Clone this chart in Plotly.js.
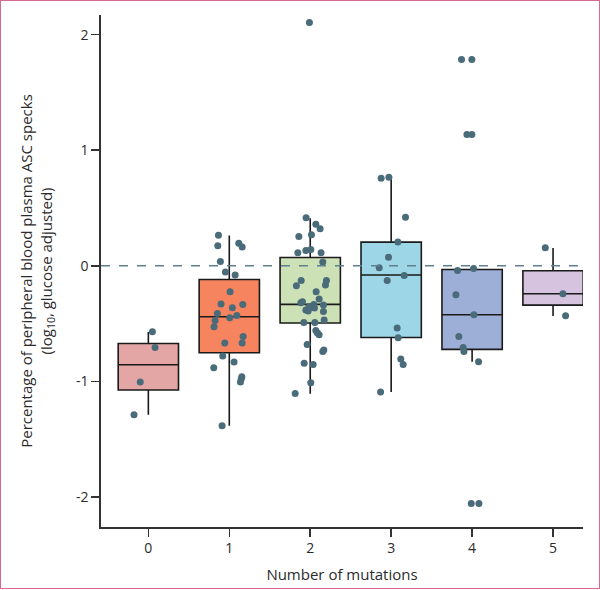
<!DOCTYPE html>
<html>
<head>
<meta charset="utf-8">
<script src="https://cdn.plot.ly/plotly-3.0.1.min.js"></script>
<style>
  html, body { margin: 0; padding: 0; background: #fff; }
  #wrap { position: relative; width: 600px; height: 590px; }
  #chart { width: 600px; height: 590px; }
  #frame { position: absolute; left: 0; top: 0; width: 600px; height: 589px; box-sizing: border-box;
           border: 1.5px solid #d8698c; pointer-events: none; }
</style>
</head>
<body>
<div id="wrap"><div id="chart"></div><div id="frame"></div></div>
<script>
// ---- Data ----
const categories = [0, 1, 2, 3, 4, 5];
const tickLabels = ['0', '1', '2', '3', '4', '5'];
const yTickVals = [-2, -1, 0, 1, 2];
const yTickLabels = ['-2', '-1', '0', '1', '2'];

// box statistics per number of mutations
const q1Values       = [-1.074, -0.752, -0.495, -0.620, -0.723, -0.340];
const medianValues   = [-0.856, -0.441, -0.334, -0.080, -0.424, -0.242];
const q3Values       = [-0.672, -0.118,  0.072,  0.205, -0.032, -0.043];
const lowerWhiskers  = [-1.288, -1.383, -1.106, -1.092, -0.830, -0.435];
const upperWhiskers  = [-0.573,  0.262,  0.412,  0.767, -0.023,  0.153];

// individual observations (y) and horizontal jitter (category units)
const points0 = [-0.570, -0.706, -1.005, -1.288];
const jitter0 = [0.050, 0.083, -0.100, -0.177];

const points1 = [0.265, 0.173, 0.196, 0.162, 0.037, -0.054, -0.080, -0.225, -0.331, -0.334, -0.363, -0.412, -0.430,
                 -0.449, -0.473, -0.527, -0.611, -0.668, -0.668, -0.781, -0.833, -0.882, -0.959, -0.979, -1.005, -1.385];
const jitter1 = [-0.134, -0.142, 0.117, 0.159, -0.110, -0.048, 0.072, 0.010, -0.102, 0.167, 0.038, -0.147, 0.093,
                 0.006, -0.175, -0.188, 0.171, -0.056, 0.159, -0.081, 0.059, -0.192, 0.155, 0.147, 0.138, -0.089];

const points2 = [2.106, 0.415, 0.360, 0.320, 0.268, 0.253, 0.141, 0.132, 0.112, 0.112, 0.032, -0.127, -0.127, -0.167,
                 -0.173, -0.225, -0.288, -0.311, -0.320, -0.334, -0.340, -0.354, -0.360, -0.383, -0.366, -0.392,
                 -0.395, -0.469, -0.490, -0.490, -0.559, -0.582, -0.596, -0.680, -0.729, -0.741, -0.844, -0.853,
                 -1.011, -1.104];
const jitter2 = [-0.010, -0.051, 0.069, 0.122, 0.015, -0.141, 0.007, -0.054, -0.153, 0.134, 0.155, 0.200, -0.112, 0.188,
                 -0.171, 0.073, 0.110, -0.096, -0.116, 0.044, 0.163, -0.014, 0.024, -0.054, 0.052, -0.026,
                 0.163, 0.172, -0.079, 0.057, 0.069, 0.089, 0.110, -0.038, 0.168, 0.155, -0.075, 0.036,
                 0.007, -0.186];

const points3 = [0.758, 0.767, 0.421, 0.205, 0.075, -0.017, -0.084, -0.127, -0.538, -0.622, -0.806, -0.853, -1.092];
const jitter3 = [-0.124, -0.028, 0.177, 0.083, -0.033, -0.148, 0.161, -0.049, 0.074, 0.086, 0.119, 0.148, -0.131];

const points4 = [1.786, 1.786, 1.135, 1.135, -0.040, -0.023, -0.251, -0.424, -0.611, -0.706, -0.741, -0.830, -2.057, -2.057];
const jitter4 = [-0.131, -0.003, -0.064, -0.003, -0.180, 0.018, -0.200, 0.022, -0.164, -0.111, -0.101, 0.080, -0.011, 0.084];

const points5 = [0.156, -0.242, -0.432];
const jitter5 = [-0.096, 0.122, 0.155];

// ---- Styles ----
const boxColors = ['#e3a6a4', '#f5845f', '#cde1b6', '#9dd6e6', '#9eafd7', '#d5c3e0'];
const pointColor = '#4a6b79';
const inkColor = '#2b2b2b';
const fontFamily = '"Open Sans", "DejaVu Sans", sans-serif';

const allPoints = [points0, points1, points2, points3, points4, points5];
const allJitter = [jitter0, jitter1, jitter2, jitter3, jitter4, jitter5];

const traces = [];
categories.forEach((c, i) => {
  traces.push({
    type: 'box',
    x: [c],
    q1: [q1Values[i]],
    median: [medianValues[i]],
    q3: [q3Values[i]],
    lowerfence: [lowerWhiskers[i]],
    upperfence: [upperWhiskers[i]],
    width: 0.745,
    whiskerwidth: 0,
    fillcolor: boxColors[i],
    line: { color: '#1a1a1a', width: 1.6 },
    boxpoints: false,
    hoverinfo: 'skip',
    showlegend: false
  });
});
categories.forEach((c, i) => {
  traces.push({
    type: 'scatter',
    mode: 'markers',
    x: allJitter[i].map(j => c + j),
    y: allPoints[i],
    marker: { color: pointColor, size: 7 },
    hoverinfo: 'y',
    showlegend: false
  });
});

const layout = {
  width: 600,
  height: 590,
  margin: { l: 101, r: 17, t: 15, b: 63 },
  paper_bgcolor: '#ffffff',
  plot_bgcolor: '#ffffff',
  showlegend: false,
  font: { family: fontFamily, color: inkColor, size: 14 },
  xaxis: {
    range: [-0.585, 5.37],
    tickmode: 'array',
    tickvals: categories,
    ticktext: tickLabels,
    ticks: 'outside',
    ticklen: 8,
    tickwidth: 1.5,
    tickcolor: '#333333',
    showline: true,
    linecolor: '#333333',
    linewidth: 1.6,
    showgrid: false,
    zeroline: false,
    tickfont: { family: fontFamily, size: 14, color: inkColor },
    title: { text: 'Number of mutations', font: { family: fontFamily, size: 15, color: inkColor }, standoff: 13 }
  },
  yaxis: {
    range: [-2.26, 2.17],
    tickmode: 'array',
    tickvals: yTickVals,
    ticktext: yTickLabels,
    ticks: 'outside',
    ticklen: 8,
    tickwidth: 1.5,
    tickcolor: '#333333',
    showline: true,
    linecolor: '#333333',
    linewidth: 1.6,
    showgrid: false,
    zeroline: false,
    tickfont: { family: fontFamily, size: 14, color: inkColor },
    title: {
      text: 'Percentage of peripheral blood plasma ASC specks<br>(log<sub>10</sub>, glucose adjusted)',
      font: { family: fontFamily, size: 15, color: inkColor },
      standoff: 20
    }
  },
  shapes: [{
    type: 'line', xref: 'paper', yref: 'y', x0: 0, x1: 1, y0: 0, y1: 0,
    line: { color: '#5f8090', width: 1.5, dash: 'dash' },
    layer: 'above'
  }]
};

Plotly.newPlot('chart', traces, layout, { displayModeBar: false, staticPlot: true });
</script>
</body>
</html>
